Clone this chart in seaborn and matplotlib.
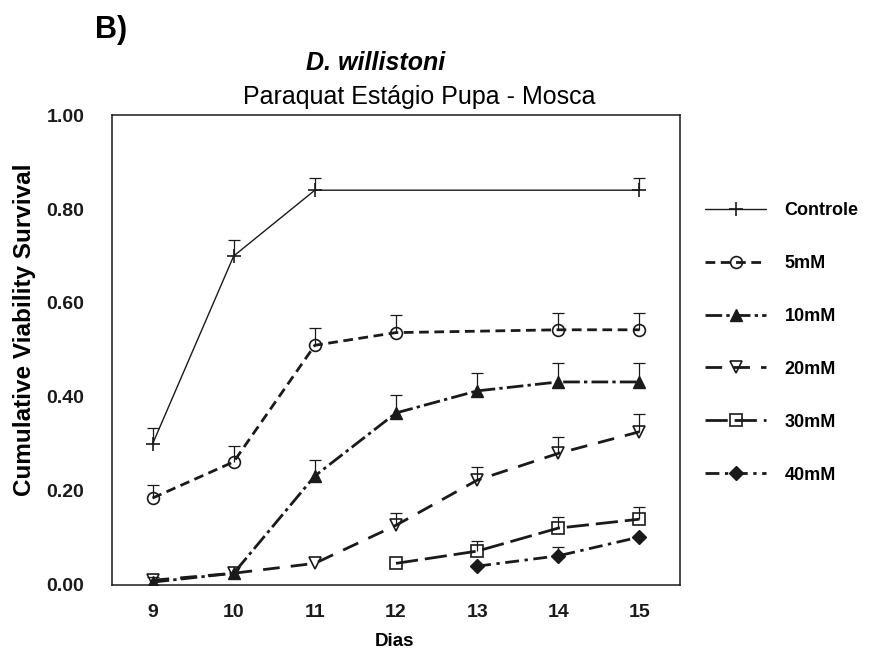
import numpy as np
import pandas as pd
import matplotlib
matplotlib.use("Agg")
import matplotlib.pyplot as plt
import seaborn as sns

# Cumulative viability survival per day, with the upper error (SE) of each point
groups = ["Controle", "5mM", "10mM", "20mM", "30mM", "40mM"]

controle_days = [9, 10, 11, 15]
controle_surv = [0.30, 0.70, 0.84, 0.84]
controle_err = [0.035, 0.035, 0.025, 0.025]

mm5_days = [9, 10, 11, 12, 14, 15]
mm5_surv = [0.185, 0.262, 0.510, 0.537, 0.543, 0.543]
mm5_err = [0.027, 0.033, 0.036, 0.038, 0.036, 0.036]

mm10_days = [9, 10, 11, 12, 13, 14, 15]
mm10_surv = [0.006, 0.025, 0.232, 0.366, 0.413, 0.432, 0.432]
mm10_err = [np.nan, np.nan, 0.034, 0.038, 0.038, 0.040, 0.040]

mm20_days = [9, 10, 11, 12, 13, 14, 15]
mm20_surv = [0.010, 0.025, 0.046, 0.127, 0.223, 0.280, 0.326]
mm20_err = [0.008, np.nan, np.nan, 0.026, 0.028, 0.035, 0.037]

mm30_days = [12, 13, 14, 15]
mm30_surv = [0.046, 0.072, 0.121, 0.140]
mm30_err = [np.nan, 0.022, 0.024, 0.026]

mm40_days = [13, 14, 15]
mm40_surv = [0.040, 0.062, 0.102]
mm40_err = [np.nan, 0.018, np.nan]

day_ticks = [9, 10, 11, 12, 13, 14, 15]
y_ticks = [0.0, 0.2, 0.4, 0.6, 0.8, 1.0]

series = {
    "Controle": (controle_days, controle_surv, controle_err),
    "5mM": (mm5_days, mm5_surv, mm5_err),
    "10mM": (mm10_days, mm10_surv, mm10_err),
    "20mM": (mm20_days, mm20_surv, mm20_err),
    "30mM": (mm30_days, mm30_surv, mm30_err),
    "40mM": (mm40_days, mm40_surv, mm40_err),
}

styles = {
    "Controle": dict(marker="+", ms=10, mfc="k", lw=1.0, ls="-", mew=1.2),
    "5mM": dict(marker="o", ms=8.5, mfc="none", lw=2.0, ls=(0, (3.5, 2)), mew=1.2),
    "10mM": dict(marker="^", ms=9, mfc="k", lw=2.0, ls=(0, (6, 1.5, 1.2, 1.5)), mew=1.0),
    "20mM": dict(marker="v", ms=8.5, mfc="none", lw=2.0, ls=(0, (6, 4)), mew=1.2),
    "30mM": dict(marker="s", ms=8, mfc="none", lw=2.0, ls=(0, (8, 2.5)), mew=1.2),
    "40mM": dict(marker="D", ms=7, mfc="k", lw=2.0, ls=(0, (5, 2, 1.2, 2)), mew=1.0),
}

sns.set_theme(style="white")
plt.rcParams["font.family"] = ["Liberation Sans", "DejaVu Sans"]
plt.rcParams["text.color"] = "black"
plt.rcParams["axes.labelcolor"] = "black"

fig = plt.figure(figsize=(8.7, 6.52), dpi=100)
ax = fig.add_axes([0.1287, 0.1028, 0.6529, 0.7208])

handles = []
for name in groups:
    days, surv, err = series[name]
    df = pd.DataFrame({"dia": days, "sv": surv})
    st = styles[name]
    sns.lineplot(data=df, x="dia", y="sv", ax=ax, color="k",
                 marker=st["marker"], markersize=st["ms"],
                 markerfacecolor=st["mfc"], markeredgecolor="k",
                 markeredgewidth=st["mew"], linewidth=st["lw"],
                 linestyle=st["ls"], label=name, legend=False, zorder=3)
    handles.append(ax.get_lines()[-1])
    # upper error bars only
    err_arr = np.array(err, dtype=float)
    ok = ~np.isnan(err_arr)
    if ok.any():
        d = np.array(days)[ok]
        s = np.array(surv)[ok]
        e = err_arr[ok]
        eb = ax.errorbar(d, s, yerr=[np.zeros_like(e), e], fmt="none",
                         ecolor="k", elinewidth=0.9, capsize=4.3,
                         capthick=0.9, zorder=2)
        eb[1][0].set_visible(False)

ax.set_xlim(8.5, 15.5)
ax.set_ylim(0, 1.0)
ax.set_xticks(day_ticks)
ax.set_xticklabels([str(d) for d in day_ticks])
ax.set_yticks(y_ticks)
ax.set_yticklabels([f"{v:.2f}" for v in y_ticks])
ax.set_xlabel("")
ax.set_ylabel("")
ax.tick_params(axis="both", direction="in", length=8, width=1,
               color="#777777", labelsize=14, labelcolor="k")
ax.tick_params(axis="y", pad=20)
ax.tick_params(axis="x", pad=14)
for lab in ax.get_xticklabels() + ax.get_yticklabels():
    lab.set_fontweight("bold")
for sp in ax.spines.values():
    sp.set_color("k")
    sp.set_linewidth(1.1)

fig.text(95 / 870, 1 - 30 / 652, "B)", fontsize=22, fontweight="bold",
         ha="left", va="center")
fig.text(376 / 870, 1 - 63 / 652, "D. willistoni", fontsize=18, fontweight="bold",
         fontstyle="italic", ha="center", va="center")
fig.text(419 / 870, 1 - 97 / 652, "Paraquat Estágio Pupa - Mosca", fontsize=18,
         ha="center", va="center")
fig.text(25 / 870, 1 - 330 / 652, "Cumulative Viability Survival", fontsize=17.5,
         fontweight="bold", rotation=90, ha="center", va="center")
fig.text(395 / 870, 1 - 641 / 652, "Dias", fontsize=13.5, fontweight="bold",
         ha="center", va="center")

leg = fig.legend(handles, groups, loc="upper left",
                 bbox_to_anchor=(705 / 870, 1 - 202 / 652),
                 frameon=False, borderpad=0, borderaxespad=0,
                 handlelength=3.4, handletextpad=1.0, labelspacing=1.99,
                 prop=dict(family="Liberation Sans", weight="bold", size=13))

fig.savefig("out.png", dpi=100)
